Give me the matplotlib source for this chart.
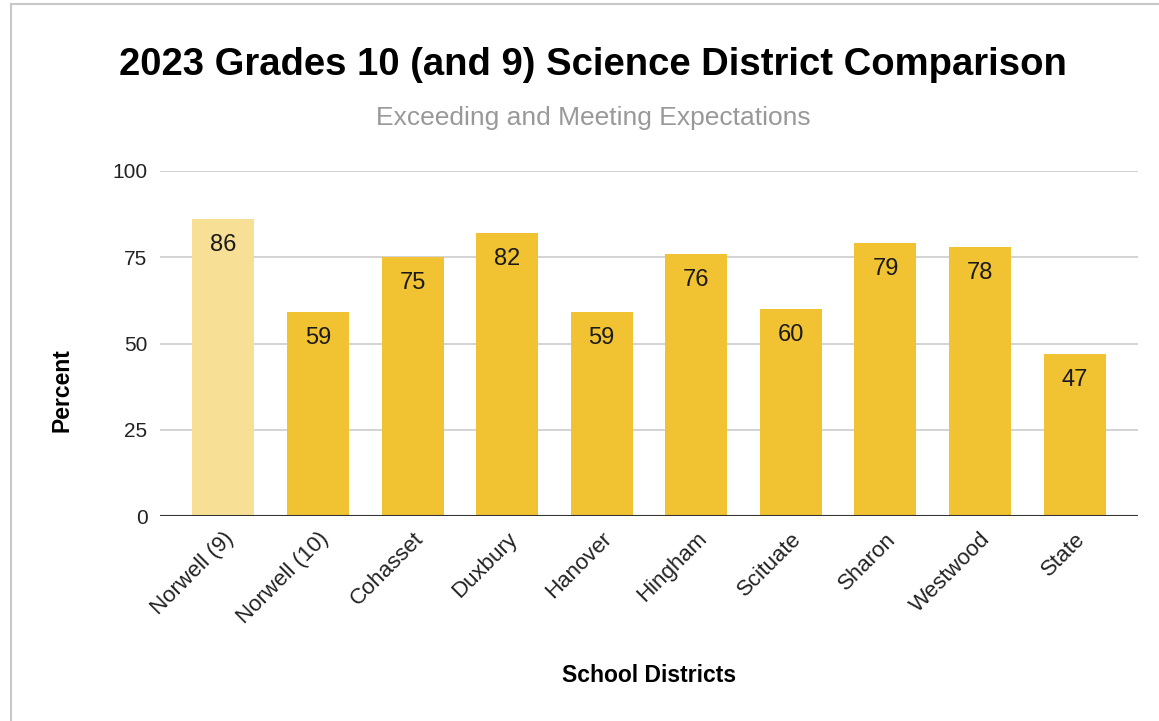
import matplotlib.pyplot as plt
from matplotlib.patches import Rectangle

districts = ["Norwell (9)", "Norwell (10)", "Cohasset", "Duxbury", "Hanover",
             "Hingham", "Scituate", "Sharon", "Westwood", "State"]
percent = [86, 59, 75, 82, 59, 76, 60, 79, 78, 47]
yticks = [0, 25, 50, 75, 100]

plt.rcParams['font.family'] = ['Liberation Sans', 'DejaVu Sans']

fig = plt.figure(figsize=(11.59, 7.21), dpi=100)
ax = fig.add_axes([160 / 1159, 1 - 516 / 721, 978 / 1159, 345 / 721])

colors = ["#f7df95"] + ["#f1c232"] * (len(percent) - 1)
x = range(len(districts))
bars = ax.bar(x, percent, width=0.655, color=colors, zorder=2)

for xi, v in zip(x, percent):
    ax.text(xi, v - 7.5, str(v), ha='center', va='center', fontsize=17, color='#1a1a1a', zorder=3)

ax.set_xlim(-0.67, 9.67)
ax.set_ylim(0, 100)
ax.set_yticks(yticks)
ax.set_yticklabels([str(t) for t in yticks], fontsize=15, color='#222222')
ax.grid(axis='y', color='#cccccc', linewidth=1.2, zorder=0)
ax.axhline(0, color='#333333', linewidth=1.5, zorder=3)
for s in ax.spines.values():
    s.set_visible(False)
ax.tick_params(axis='both', length=0)
ax.tick_params(axis='y', pad=9)

ax.set_xticks(list(x))
ax.set_xticklabels(districts, rotation=45, ha='right', rotation_mode='anchor', fontsize=16, color='#222222')
ax.tick_params(axis='x', pad=9)

fig.text(593 / 1159, 1 - 65 / 721, "2023 Grades 10 (and 9) Science District Comparison",
         ha='center', va='center', fontsize=27.5, fontweight='bold', color='black')
fig.text(593 / 1159, 1 - 118 / 721, "Exceeding and Meeting Expectations",
         ha='center', va='center', fontsize=19, color='#999999')
fig.text(62 / 1159, 1 - 390 / 721, "Percent", rotation=90, ha='center', va='center',
         fontsize=16.5, fontweight='bold', color='black')
fig.text(649 / 1159, 1 - 675 / 721, "School Districts", ha='center', va='center',
         fontsize=16.5, fontweight='bold', color='black')

fig.patches.append(Rectangle((11 / 1159, -0.01), 1.1, 1 - 4 / 721 + 0.01, transform=fig.transFigure,
                             fill=False, edgecolor='#c8c8c8', linewidth=1.5))

fig.savefig("out.png", dpi=100)
